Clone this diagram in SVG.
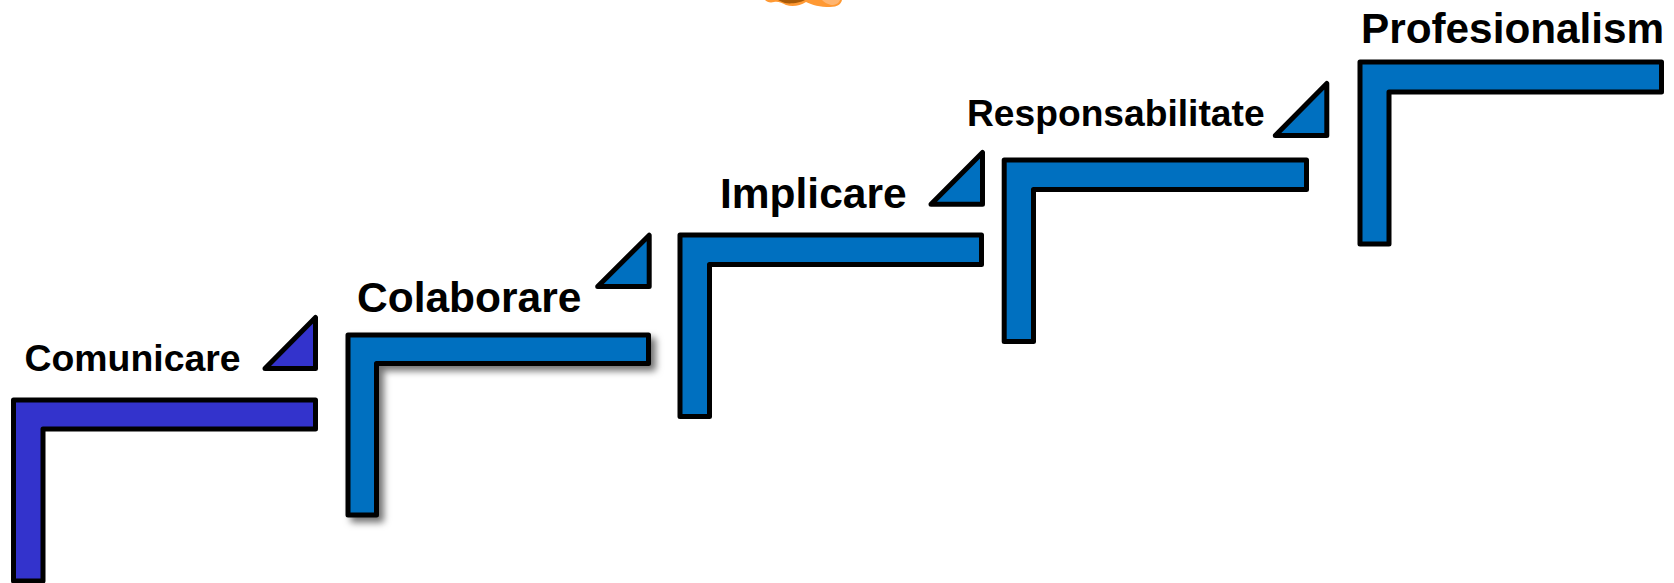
<svg xmlns="http://www.w3.org/2000/svg" width="1674" height="583" viewBox="0 0 1674 583">
<defs>
<style>
.s{stroke:#000;stroke-width:5;stroke-linejoin:round}
.v{fill:#3333CC}
.b{fill:#0070C0}
text{font-family:"Liberation Sans",Arial,sans-serif;font-weight:700;fill:#000}
.m{font-size:37.4px}
.r{font-size:37.2px}
.l{font-size:42.5px}
.p{font-size:42.3px}
</style>
<filter id="sh" x="-10%" y="-10%" width="125%" height="125%">
<feDropShadow dx="5" dy="5" stdDeviation="3.5" flood-color="#000" flood-opacity="0.55"/>
</filter>
</defs>
<rect width="1674" height="583" fill="#fff"/>
<g id="fragment">
<path d="M765,0 H842 C841,4 838,7 830,7 C820,7 812,5 806,2 C800,6 792,7 786,5 C782,3 778,1 774,2 C770,3 767,2 765,0 Z" fill="#FF9933"/>
<path d="M778,0 H805 C800,3 790,4 785,3 C782,2 780,1 778,0 Z" fill="#A85A08"/>
<path d="M822,0 H840 C839,3 836,5 831,5 C827,4 824,2 822,0 Z" fill="#FFB570"/>
</g>
<g id="connectors"/>
<g id="step-comunicare">
<path class="s v" d="M13.5,581 V400 H315.5 V429 H43 V581 Z"/>
<path class="s v" d="M265,368.5 L315.5,317.5 V368.5 Z"/>
<text class="m" x="24.5" y="371">Comunicare</text>
</g>
<g id="step-colaborare">
<path class="s b" filter="url(#sh)" d="M348,515 V335 H648.5 V363.5 H376.5 V515 Z"/>
<path class="s b" d="M597.7,286.5 L649.2,235.2 V286.5 Z"/>
<text class="l" x="357" y="312">Colaborare</text>
</g>
<g id="step-implicare">
<path class="s b" d="M680,416.5 V235 H981.5 V264.5 H709.5 V416.5 Z"/>
<path class="s b" d="M931,204.2 L982.5,152.5 V204.2 Z"/>
<text class="l" x="720" y="207.5">Implicare</text>
</g>
<g id="step-responsabilitate">
<path class="s b" d="M1004.2,341.5 V160 H1306.5 V189.5 H1033.5 V341.5 Z"/>
<path class="s b" d="M1275.3,135.5 L1326.8,83.5 V135.5 Z"/>
<text class="r" x="967" y="125.5">Responsabilitate</text>
</g>
<g id="step-profesionalism">
<path class="s b" d="M1360,244 V62 H1661.5 V92 H1389 V244 Z"/>
<text class="p" x="1361" y="42.5">Profesionalism</text>
</g>
</svg>
